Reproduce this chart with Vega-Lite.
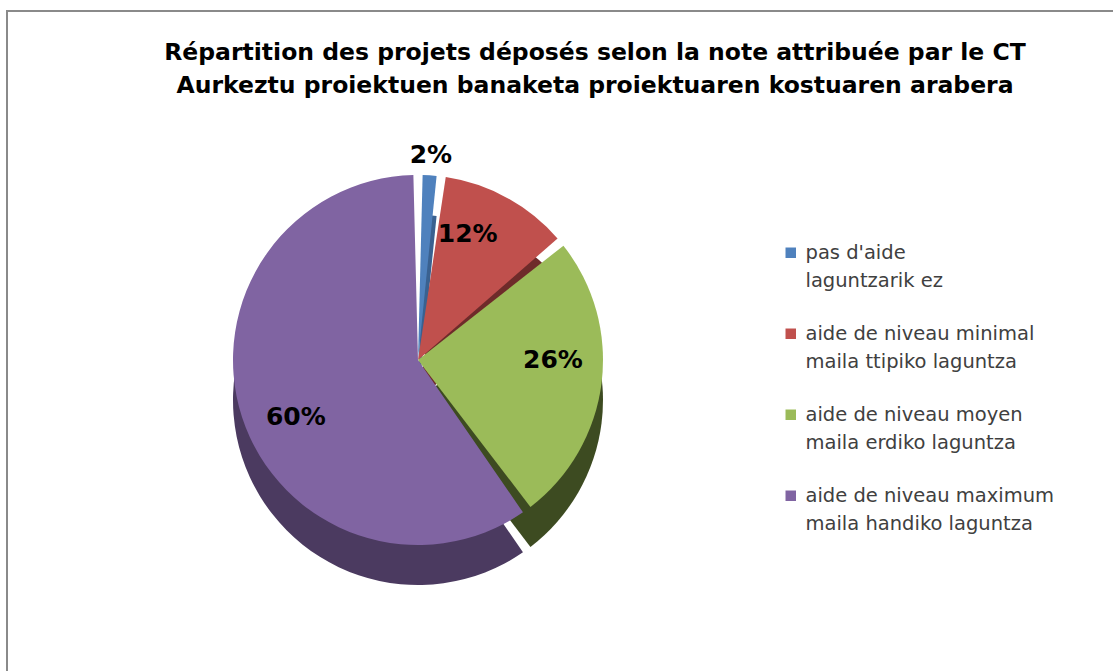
{
  "$schema": "https://vega.github.io/schema/vega-lite/v6.json",
  "width": 1113,
  "height": 671,
  "autosize": {"type": "fit", "contains": "padding"},
  "padding": {"left": 7, "top": 11, "right": -10, "bottom": -30},
  "background": "white",
  "view": {"stroke": "#8a8a8a", "strokeWidth": 2},
  "config": {"view": {"stroke": "#8a8a8a", "strokeWidth": 2}, "style": {"guide-label": {"lineHeight": 28}}},
  "title": {
    "text": ["Répartition des projets déposés selon la note attribuée par le CT", "Aurkeztu proiektuen banaketa proiektuaren kostuaren arabera"],
    "font": "DejaVu Sans",
    "fontSize": 23.5,
    "fontWeight": "bold",
    "lineHeight": 33,
    "color": "#000000",
    "anchor": "middle",
    "offset": -86,
    "dx": 30
  },
  "data": {
    "values": [
      {"cat": "pas d'aide|laguntzarik ez", "value": 2, "label": "2%", "ord": 1},
      {"cat": "aide de niveau minimal|maila ttipiko laguntza", "value": 12, "label": "12%", "ord": 2},
      {"cat": "aide de niveau moyen|maila erdiko laguntza", "value": 26, "label": "26%", "ord": 3},
      {"cat": "aide de niveau maximum|maila handiko laguntza", "value": 60, "label": "60%", "ord": 4}
    ]
  },
  "layer": [
    {
      "mark": {"type": "arc", "outerRadius": 185, "padAngle": 0.05, "x": 411, "y": 389},
      "encoding": {
        "theta": {"field": "value", "type": "quantitative", "stack": true},
        "order": {"field": "ord", "type": "quantitative"},
        "color": {
          "field": "cat", "type": "nominal", "legend": null,
          "scale": {
            "domain": ["pas d'aide|laguntzarik ez", "aide de niveau minimal|maila ttipiko laguntza", "aide de niveau moyen|maila erdiko laguntza", "aide de niveau maximum|maila handiko laguntza"],
            "range": ["#3A6190", "#6E2B2A", "#3D4B21", "#4B3A60"]
          }
        }
      }
    },
    {
      "mark": {"type": "arc", "outerRadius": 185, "padAngle": 0.05, "x": 411, "y": 349},
      "encoding": {
        "theta": {"field": "value", "type": "quantitative", "stack": true},
        "order": {"field": "ord", "type": "quantitative"},
        "color": {
          "field": "cat", "type": "nominal",
          "scale": {
            "domain": ["pas d'aide|laguntzarik ez", "aide de niveau minimal|maila ttipiko laguntza", "aide de niveau moyen|maila erdiko laguntza", "aide de niveau maximum|maila handiko laguntza"],
            "range": ["#4F81BD", "#C0504D", "#9BBB59", "#8064A2"]
          },
          "legend": {
            "orient": "none",
            "legendX": 774,
            "legendY": 232,
            "title": null,
            "symbolType": "square",
            "symbolSize": 110,
            "symbolStrokeWidth": 0,
            "labelFont": "DejaVu Sans",
            "labelFontSize": 19.5,
            "labelColor": "#404040",
            "labelLimit": 400,
            "labelOffset": 5,
            "labelBaseline": "middle",
            "rowPadding": 32,
            "labelExpr": "split(datum.label, '|')"
          }
        }
      }
    },
    {
      "transform": [{"filter": "datum.ord > 1"}],
      "mark": {"type": "text", "radius": 135, "x": 411, "y": 349, "font": "DejaVu Sans", "fontSize": 25, "fontWeight": "bold", "color": "#000000"},
      "encoding": {
        "theta": {"field": "value", "type": "quantitative", "stack": true},
        "order": {"field": "ord", "type": "quantitative"},
        "text": {"field": "label"}
      }
    },
    {
      "transform": [{"filter": "datum.ord == 1"}],
      "mark": {"type": "text", "radius": 205, "x": 411, "y": 349, "font": "DejaVu Sans", "fontSize": 25, "fontWeight": "bold", "color": "#000000", "theta": 0.063},
      "encoding": {
        "text": {"field": "label"}
      }
    }
  ],
  "resolve": {"scale": {"color": "independent"}, "legend": {"color": "independent"}}
}
